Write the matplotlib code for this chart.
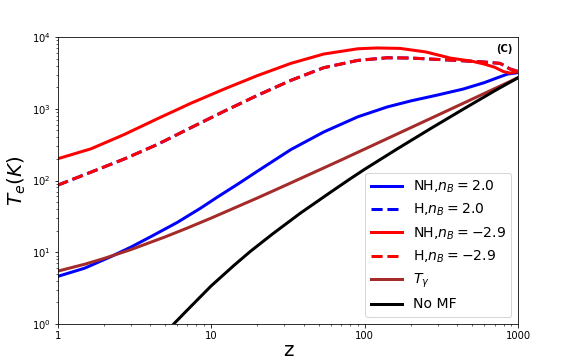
import numpy as np
import matplotlib
matplotlib.use('Agg')
import matplotlib.pyplot as plt
from matplotlib.ticker import FixedLocator, FixedFormatter

# NH, n_B = 2.0
z_nh_20 = [1, 1.5, 2.2, 3, 4, 6, 8.5, 11, 15, 20, 33, 54, 90, 140, 200, 300, 438, 600, 730, 850, 1000]
T_nh_20 = [4.6, 6.0, 8.6, 11.8, 16.3, 26, 41, 59, 90, 135, 270, 475, 773, 1062, 1291, 1563, 1888, 2317, 2710, 3050, 3200]

# H curves (both n_B values lie on top of each other)
z_h = [1, 1.65, 2.72, 4.47, 7.37, 12.2, 20, 33, 54, 90, 140, 200, 360, 590, 760, 880, 1000]
T_h_20 = [86, 131, 200, 319, 545, 930, 1540, 2490, 3740, 4730, 5150, 5100, 4780, 4500, 4300, 3600, 3300]
T_h_29 = [86, 131, 200, 319, 545, 930, 1540, 2490, 3740, 4730, 5150, 5100, 4780, 4500, 4300, 3600, 3300]

# NH, n_B = -2.9
z_nh_29 = [1, 1.65, 2.72, 4.47, 7.37, 12.2, 20, 33, 54, 90, 120, 170, 250, 360, 500, 600, 700, 800, 880, 1000]
T_nh_29 = [201, 277, 439, 728, 1194, 1892, 2904, 4300, 5800, 6870, 7050, 6950, 6200, 5100, 4600, 4200, 3800, 3300, 3150, 3300]

# CMB temperature
z_cmb = [1, 1.5, 2, 3, 5, 7, 10, 20, 30, 50, 70, 100, 200, 300, 500, 700, 1000]
T_cmb = [5.45, 6.81, 8.18, 10.9, 16.35, 21.8, 29.98, 57.2, 84.5, 139, 193, 275, 548, 820, 1365, 1910, 2728]

# no magnetic field
z_nomf = [5.7, 7, 10, 14, 18, 25, 38, 60, 80, 100, 163, 270, 438, 700, 1000]
T_nomf = [1.0, 1.57, 3.4, 6.5, 10.3, 17.9, 35, 69, 105, 144, 277, 535, 990, 1780, 2730]

xticks = [1, 10, 100, 1000]
xticklabels = ['1', '10', '100', '1000']

fig = plt.figure(figsize=(8, 5), dpi=72)
ax = fig.add_subplot(111)
fig.subplots_adjust(left=0.1, right=0.9, bottom=0.1, top=0.897)

ax.plot(z_nh_20, T_nh_20, color='b', lw=3, label='NH,$n_B=2.0$')
ax.plot(z_h, T_h_20, color='b', lw=3, ls='--', label='H,$n_B=2.0$')
ax.plot(z_nh_29, T_nh_29, color='r', lw=3, label='NH,$n_B=-2.9$')
ax.plot(z_h, T_h_29, color='r', lw=3, ls='--', label='H,$n_B=-2.9$')
ax.plot(z_cmb, T_cmb, color='brown', lw=3, label=r'$T_{\gamma}$')
ax.plot(z_nomf, T_nomf, color='k', lw=3, label='No MF')

ax.set_xscale('log')
ax.set_yscale('log')
ax.set_xlim(1, 1000)
ax.set_ylim(1, 1e4)
ax.xaxis.set_major_locator(FixedLocator(xticks))
ax.xaxis.set_major_formatter(FixedFormatter(xticklabels))

ax.set_xlabel('z', fontsize=20, labelpad=0)
ax.set_ylabel('$T_e(K)$', fontsize=20)
ax.text(0.97, 0.958, '(C)', transform=ax.transAxes, ha='center', va='center',
        fontsize=10, fontweight='bold')
ax.legend(loc='lower right', fontsize=14, labelspacing=0.5, handlelength=2.2)

fig.savefig('out.png', dpi=72)
